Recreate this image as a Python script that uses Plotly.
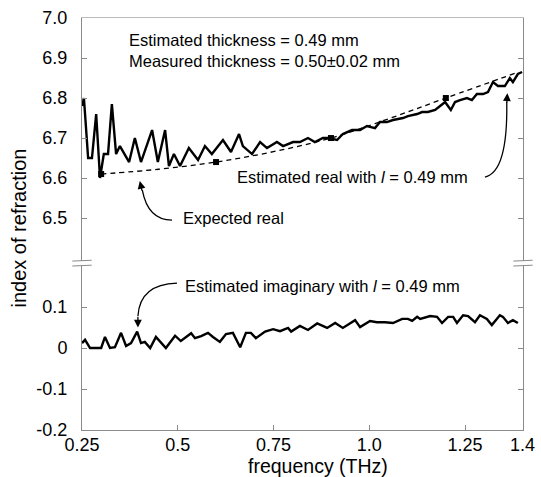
import plotly.graph_objects as go

# ---------------- data ----------------
freq_real = [0.250, 0.255, 0.266, 0.276, 0.287, 0.297, 0.307, 0.318, 0.328, 0.339,
             0.349, 0.373, 0.388, 0.404, 0.433, 0.448, 0.467, 0.477, 0.490, 0.506,
             0.529, 0.553, 0.571, 0.589, 0.618, 0.639, 0.660, 0.670, 0.694, 0.715,
             0.733, 0.759, 0.775, 0.801, 0.819, 0.840, 0.858, 0.879, 0.892, 0.916,
             0.931, 0.955, 0.976, 0.994, 1.015, 1.028, 1.046, 1.062, 1.088, 1.101,
             1.125, 1.138, 1.153, 1.172, 1.185, 1.198, 1.213, 1.224, 1.237, 1.255,
             1.268, 1.281, 1.297, 1.310, 1.323, 1.336, 1.354, 1.367, 1.375, 1.388,
             1.399]
n_real = [6.78, 6.80, 6.65, 6.65, 6.76, 6.60, 6.66, 6.66, 6.785, 6.66,
          6.68, 6.64, 6.70, 6.64, 6.72, 6.64, 6.72, 6.63, 6.66, 6.63,
          6.675, 6.645, 6.68, 6.66, 6.695, 6.665, 6.71, 6.68, 6.66, 6.69,
          6.675, 6.69, 6.68, 6.69, 6.69, 6.70, 6.69, 6.70, 6.70, 6.695,
          6.71, 6.72, 6.72, 6.73, 6.725, 6.74, 6.74, 6.745, 6.75, 6.755,
          6.76, 6.765, 6.765, 6.77, 6.78, 6.79, 6.77, 6.79, 6.795, 6.80,
          6.795, 6.81, 6.81, 6.815, 6.84, 6.83, 6.83, 6.85, 6.84, 6.86,
          6.865]

freq_expected = [0.30, 0.45, 0.60, 0.75, 0.90, 1.05, 1.20, 1.39]
n_expected = [6.61, 6.622, 6.64, 6.666, 6.70, 6.748, 6.80, 6.865]
freq_expected_pts = [0.30, 0.60, 0.90, 1.20]
n_expected_pts = [6.61, 6.64, 6.70, 6.80]

freq_imag = [0.250, 0.258, 0.271, 0.300, 0.310, 0.323, 0.336, 0.352, 0.365, 0.378,
             0.394, 0.404, 0.414, 0.428, 0.443, 0.469, 0.493, 0.508, 0.535, 0.545,
             0.561, 0.579, 0.592, 0.610, 0.626, 0.644, 0.663, 0.678, 0.691, 0.704,
             0.728, 0.749, 0.767, 0.788, 0.796, 0.819, 0.840, 0.864, 0.890, 0.911,
             0.931, 0.955, 0.963, 0.976, 1.002, 1.020, 1.041, 1.062, 1.086, 1.101,
             1.112, 1.125, 1.133, 1.159, 1.177, 1.190, 1.206, 1.219, 1.229, 1.245,
             1.258, 1.276, 1.289, 1.307, 1.320, 1.341, 1.349, 1.362, 1.375, 1.388]
k_imag = [0.012, 0.020, 0.000, 0.000, 0.027, 0.000, 0.002, 0.037, 0.005, 0.012,
          0.040, 0.012, 0.015, 0.000, 0.027, 0.000, 0.030, 0.017, 0.036, 0.024,
          0.029, 0.037, 0.027, 0.015, 0.034, 0.037, 0.002, 0.037, 0.037, 0.024,
          0.040, 0.046, 0.041, 0.049, 0.040, 0.054, 0.044, 0.060, 0.049, 0.061,
          0.049, 0.063, 0.068, 0.051, 0.066, 0.063, 0.063, 0.061, 0.071, 0.071,
          0.066, 0.076, 0.071, 0.078, 0.076, 0.061, 0.076, 0.076, 0.061, 0.080,
          0.078, 0.063, 0.080, 0.071, 0.056, 0.080, 0.076, 0.061, 0.068, 0.061]

x_tickvals = [0.25, 0.5, 0.75, 1.0, 1.25, 1.4]
x_ticktext = ["0.25", "0.5", "0.75", "1.0", "1.25", "1.4"]
top_tickvals = [6.5, 6.6, 6.7, 6.8, 6.9, 7.0]
top_ticktext = ["6.5", "6.6", "6.7", "6.8", "6.9", "7.0"]
bot_tickvals = [-0.2, -0.1, 0.0, 0.1]
bot_ticktext = ["-0.2", "-0.1", "0", "0.1"]

# ---------------- figure ----------------
FONT = "Liberation Sans, Arial, sans-serif"
AX = "#8a8a8a"

fig = go.Figure()
fig.add_trace(go.Scatter(x=freq_real, y=n_real, mode="lines",
                         line=dict(color="black", width=2.4),
                         xaxis="x2", yaxis="y2", showlegend=False))
fig.add_trace(go.Scatter(x=freq_expected, y=n_expected, mode="lines",
                         line=dict(color="black", width=1.3, dash="5px,4px", shape="spline"),
                         xaxis="x2", yaxis="y2", showlegend=False))
fig.add_trace(go.Scatter(x=freq_expected_pts, y=n_expected_pts, mode="markers",
                         marker=dict(symbol="square", size=6, color="black"),
                         xaxis="x2", yaxis="y2", showlegend=False))
fig.add_trace(go.Scatter(x=freq_imag, y=k_imag, mode="lines",
                         line=dict(color="black", width=2.4),
                         xaxis="x", yaxis="y", showlegend=False))

axis_common = dict(showgrid=False, zeroline=False, linecolor=AX, linewidth=1,
                   ticks="inside", tickcolor=AX, ticklen=5, automargin=False,
                   tickfont=dict(family=FONT, size=18, color="black"))

fig.update_layout(
    width=541, height=477,
    margin=dict(l=82, r=18, t=18, b=47, autoexpand=False),
    paper_bgcolor="white", plot_bgcolor="white",
    font=dict(family=FONT, color="black"),
    xaxis=dict(**axis_common, range=[0.25, 1.4014], anchor="y", showline=True,
               tickvals=x_tickvals, ticktext=x_ticktext, ticklabelstandoff=-2),
    xaxis2=dict(showgrid=False, zeroline=False, range=[0.25, 1.4014], anchor="y2",
                matches="x", side="top", showline=True, linecolor="#bbbbbb",
                linewidth=1, showticklabels=False, ticks="", automargin=False),
    yaxis=dict(**axis_common, domain=[0, 0.398], range=[-0.2, 0.2], anchor="x",
               showline=True, mirror="ticks",
               tickvals=bot_tickvals, ticktext=bot_ticktext, ticklabelstandoff=10),
    yaxis2=dict(**axis_common, domain=[0.410, 1.0], range=[6.3925, 7.0], anchor="x2",
                showline=True, mirror="ticks",
                tickvals=top_tickvals, ticktext=top_ticktext, ticklabelstandoff=10),
)

ann_font = dict(family=FONT, size=16.5, color="black")
annotations = [
    dict(x=0.3675, y=6.945, xref="x2", yref="y2", xanchor="left", yanchor="middle",
         text="Estimated thickness = 0.49 mm", showarrow=False, font=ann_font),
    dict(x=0.3675, y=6.8925, xref="x2", yref="y2", xanchor="left", yanchor="middle",
         text="Measured thickness = 0.50±0.02 mm", showarrow=False, font=ann_font),
    dict(x=0.6495, y=6.6025, xref="x2", yref="y2", xanchor="left", yanchor="middle",
         text="Estimated real with <i>l</i> = 0.49 mm", showarrow=False, font=ann_font),
    dict(x=0.5085, y=6.50, xref="x2", yref="y2", xanchor="left", yanchor="middle",
         text="Expected real", showarrow=False, font=ann_font),
    dict(x=0.5137, y=0.151, xref="x", yref="y", xanchor="left", yanchor="middle",
         text="Estimated imaginary with <i>l</i> = 0.49 mm", showarrow=False, font=ann_font),
    # arrow heads
    dict(x=1.3605, y=6.812, ax=1.359, ay=6.785, xref="x2", yref="y2", axref="x2", ayref="y2",
         text="", showarrow=True, arrowhead=2, arrowsize=1.2, arrowwidth=1.3, arrowcolor="black"),
    dict(x=0.401, y=6.5925, ax=0.4075, ay=6.565, xref="x2", yref="y2", axref="x2", ayref="y2",
         text="", showarrow=True, arrowhead=2, arrowsize=1.2, arrowwidth=1.3, arrowcolor="black"),
    dict(x=0.396, y=0.050, ax=0.396, ay=0.080, xref="x", yref="y", axref="x", ayref="y",
         text="", showarrow=True, arrowhead=2, arrowsize=1.2, arrowwidth=1.3, arrowcolor="black"),
    # axis titles
    dict(x=-0.142, y=0.49, xref="paper", yref="paper", xanchor="center", yanchor="middle",
         text="index of refraction", textangle=-90, showarrow=False,
         font=dict(family=FONT, size=20, color="black")),
    dict(x=0.535, y=-0.087, xref="paper", yref="paper", xanchor="center", yanchor="middle",
         text="frequency (THz)", showarrow=False,
         font=dict(family=FONT, size=19.5, color="black")),
]
fig.update_layout(annotations=annotations)

shapes = [
    # curved arrow shafts
    dict(type="path", xref="x2", yref="y2",
         path="M 1.302 6.6025 Q 1.362 6.615 1.359 6.79",
         line=dict(color="black", width=1.3)),
    dict(type="path", xref="x2", yref="y2",
         path="M 0.485 6.495 Q 0.4223 6.495 0.4075 6.57",
         line=dict(color="black", width=1.3)),
    dict(type="path", xref="x", yref="y",
         path="M 0.498 0.1585 Q 0.401 0.156 0.396 0.078",
         line=dict(color="black", width=1.3)),
]
# axis break marks (left and right edges)
for xp in (0.0, 1.0):
    for yp in (0.410, 0.398):
        shapes.append(dict(type="line", xref="paper", yref="paper",
                           x0=xp - 0.022, x1=xp + 0.022, y0=yp, y1=yp + 0.002,
                           line=dict(color=AX, width=1)))
fig.update_layout(shapes=shapes)

fig.write_html("out.html", config={"displayModeBar": False},
               post_script="document.body.style.margin='0px';")
